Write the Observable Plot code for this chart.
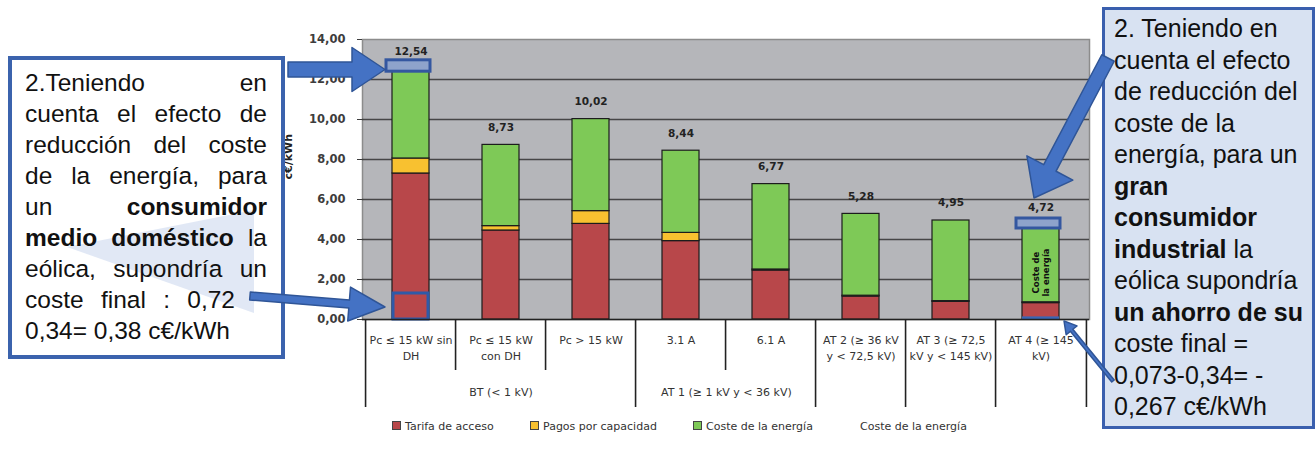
<!DOCTYPE html>
<html>
<head>
<meta charset="utf-8">
<script src="https://cdn.jsdelivr.net/npm/d3@7"></script>
<script src="https://cdn.jsdelivr.net/npm/@observablehq/plot@0.6"></script>
<style>
  html, body { margin: 0; padding: 0; background: #fff; }
  #wrap { position: relative; width: 1316px; height: 451px; overflow: hidden; background: #fff; }
  #chart { position: absolute; left: 0; top: 0; }
  .box { position: absolute; box-sizing: border-box; font-family: "Liberation Sans", Arial, sans-serif; color: #111; }
  #boxL { left: 8px; top: 56px; width: 277px; height: 303px; border: 4px solid #3b63ad; background: #fff; }
  #boxL .ln { position: relative; width: 242px; margin-left: 13px; font-size: 24.5px; line-height: 31px; height: 31px; white-space: nowrap; text-align: justify; text-align-last: justify; }
  #boxL .ln.last { text-align-last: left; }
  #boxR { left: 1102px; top: 7px; width: 213px; height: 422px; border: 3px solid #3a5fae; background: #d8e2f2; padding-left: 9px; padding-top: 3px; }
  #boxR .ln { font-size: 25px; line-height: 31.5px; height: 31.5px; white-space: nowrap; }
  b { font-weight: bold; }
  #arrows { position: absolute; left: 0; top: 0; pointer-events: none; }
  #legend { position: absolute; top: 419px; left: 0; width: 1316px; height: 18px; font-family: "DejaVu Sans", sans-serif; font-size: 11px; color: #333; }
  #legend .it { position: absolute; top: 0; white-space: nowrap; line-height: 16px; }
  #legend .sw { display: inline-block; width: 7px; height: 7px; border: 1px solid #444; margin-right: 4px; vertical-align: 0px; }
</style>
</head>
<body>
<div id="wrap">
  <div id="chart"></div>
  <div id="boxL" class="box">
    <svg width="277" height="303" style="position:absolute;left:-4px;top:-4px">
      <polygon points="59,191 246,154 246,257" fill="#c9d6ec" opacity="0.55"></polygon>
    </svg>
    <div style="position:relative;padding-top:7px">
      <div class="ln">2.Teniendo en</div>
      <div class="ln">cuenta el efecto de</div>
      <div class="ln">reducción del coste</div>
      <div class="ln">de la energía, para</div>
      <div class="ln">un <b>consumidor</b></div>
      <div class="ln"><b>medio doméstico</b> la</div>
      <div class="ln">eólica, supondría un</div>
      <div class="ln" style="width:210px">coste final : 0,72</div>
      <div class="ln last">0,34= 0,38 c€/kWh</div>
    </div>
  </div>
  <div id="boxR" class="box">
    <div class="ln">2. Teniendo en</div>
    <div class="ln">cuenta el efecto</div>
    <div class="ln">de reducción del</div>
    <div class="ln">coste de la</div>
    <div class="ln">energía, para un</div>
    <div class="ln"><b>gran</b></div>
    <div class="ln"><b>consumidor</b></div>
    <div class="ln"><b>industrial</b> la</div>
    <div class="ln">eólica supondría</div>
    <div class="ln"><b>un ahorro de su</b></div>
    <div class="ln">coste final =</div>
    <div class="ln">0,073-0,34= -</div>
    <div class="ln">0,267 c€/kWh</div>
  </div>
  <svg id="arrows" width="1316" height="451"></svg>
  <div id="legend"></div>
</div>
<script>
// ---------- data ----------
const categories = [
  "Pc ≤ 15 kW sin\nDH",
  "Pc ≤ 15 kW\ncon DH",
  "Pc > 15 kW",
  "3.1 A",
  "6.1 A",
  "AT 2 (≥ 36 kV\ny < 72,5 kV)",
  "AT 3 (≥ 72,5\nkV y < 145 kV)",
  "AT 4 (≥ 145\nkV)"
];
const seriesNames = ["Tarifa de acceso", "Pagos por capacidad", "Coste de la energía"];
const tarifaAcceso      = [7.30, 4.45, 4.78, 3.92, 2.45, 1.15, 0.88, 0.82];
const pagosCapacidad    = [0.75, 0.22, 0.64, 0.41, 0.05, 0.04, 0.04, 0.04];
const costeEnergia      = [4.49, 4.06, 4.60, 4.11, 4.27, 4.09, 4.03, 3.86];
const totals            = [12.54, 8.73, 10.02, 8.44, 6.77, 5.28, 4.95, 4.72];
const yTicks = [0, 2, 4, 6, 8, 10, 12, 14];
const groups = [
  {label: "BT (< 1 kV)", first: 0, last: 2},
  {label: "AT 1 (≥ 1 kV y < 36 kV)", first: 3, last: 4}
];
const legendItems = ["Tarifa de acceso", "Pagos por capacidad", "Coste de la energía", "Coste de la energía"];
const colors = ["#b8474a", "#f8c130", "#7ec957"];

// ---------- build ----------
const fmt = v => v.toFixed(2).replace(".", ",");
const rows = [];
categories.forEach((c, i) => {
  rows.push({cat: c, serie: seriesNames[0], value: tarifaAcceso[i]});
  rows.push({cat: c, serie: seriesNames[1], value: pagosCapacidad[i]});
  rows.push({cat: c, serie: seriesNames[2], value: costeEnergia[i]});
});

const W = 1316, H = 451, mL = 362, mR = 227, mT = 39, mB = 132;
const pIn = 0.59, pOut = 0.295;
const band = d3.scaleBand().domain(categories).range([mL, W - mR]).paddingInner(pIn).paddingOuter(pOut);
const step = band.step();

const longEdges = new Set([0, 3, 5, 6, 7]);
const edges = categories.map((c, i) => ({cat: c, long: longEdges.has(i)}));

const groupsOdd = groups.filter(g => (g.last - g.first) % 2 === 0).map(g => ({...g, cat: categories[(g.first + g.last) / 2]}));
const groupsEven = groups.filter(g => (g.last - g.first) % 2 === 1).map(g => ({...g, cat: categories[(g.first + g.last - 1) / 2]}));

const hlTop = [
  {cat: categories[0], y1: totals[0] - 0.15, y2: totals[0] + 0.42},
  {cat: categories[7], y1: totals[7] - 0.17, y2: totals[7] + 0.33}
];
const hlBottom = [{cat: categories[0], y1: 0, y2: 1.3}];
const hlStrip = [{cat: categories[7], y1: 0, y2: 0.13}];
const inBarText = [{cat: categories[7], y: 2.35, text: "Coste de\nla energía"}];

const chart = Plot.plot({
  width: W, height: H,
  marginLeft: mL, marginRight: mR, marginTop: mT, marginBottom: mB,
  style: {fontFamily: "DejaVu Sans, sans-serif", background: "transparent", overflow: "visible"},
  x: {domain: categories, paddingInner: pIn, paddingOuter: pOut, axis: null},
  y: {domain: [0, 14], axis: null},
  color: {domain: seriesNames, range: colors},
  marks: [
    Plot.frame({fill: "#b5b6ba", stroke: "#8c8c8c", strokeWidth: 1.5}),
    Plot.ruleY(yTicks.filter(t => t > 0 && t < 14), {stroke: "#333", strokeWidth: 1.6, strokeOpacity: 0.85}),
    Plot.barY(rows, {x: "cat", y: "value", fill: "serie", stroke: "#1c1c1c", strokeWidth: 1.2}),
    Plot.barY(hlBottom, {x: "cat", y1: "y1", y2: "y2", fill: "none", stroke: "#2f5aa8", strokeWidth: 3, insetLeft: 1, insetRight: 1}),
    Plot.barY(hlStrip, {x: "cat", y1: "y1", y2: "y2", fill: "#3a66b5"}),
    Plot.barY(hlTop, {x: "cat", y1: "y1", y2: "y2", fill: "#8ea3cb", stroke: "#3457a0", strokeWidth: 3, insetLeft: -6, insetRight: -1}),
    Plot.text(totals, {x: (d, i) => categories[i], y: d => d, text: fmt, dy: -17.5, fontWeight: "bold", fontSize: 10.5, fill: "#222"}),
    Plot.text(inBarText, {x: "cat", y: "y", text: "text", rotate: -90, fontWeight: "bold", fontSize: 8.5, fill: "#111", lineHeight: 1.1}),
    Plot.ruleY([0], {stroke: "#222", strokeWidth: 1.5}),
    Plot.axisY({ticks: yTicks, tickFormat: fmt, tickSize: 5, tickPadding: 12, fontSize: 11.5, fontWeight: "bold", color: "#3d3d3d", label: null}),
    Plot.text(["c€/kWh"], {frameAnchor: "left", dx: -74, rotate: -90, fontWeight: "bold", fontSize: 11, fill: "#222"}),
    Plot.ruleX(edges, {x: "cat", dx: -step / 2, y1: 0, y2: d => d.long ? -4.4 : -2.55, stroke: "#222", strokeWidth: 1.6}),
    Plot.ruleX([categories[categories.length - 1]], {x: d => d, dx: step / 2, y1: 0, y2: -4.4, stroke: "#222", strokeWidth: 1.6}),
    Plot.text(categories, {x: d => d, y: -0.62, text: d => d, lineAnchor: "top", fontSize: 11, fill: "#333", lineHeight: 1.5}),
    Plot.text(groupsOdd, {x: "cat", y: -3.65, text: "label", fontSize: 11, fill: "#333"}),
    Plot.text(groupsEven, {x: "cat", y: -3.65, text: "label", fontSize: 11, fill: "#333", dx: step / 2})
  ]
});
document.getElementById("chart").appendChild(chart);

// ---------- legend ----------
(function(){
  const lg = document.getElementById("legend");
  const lefts = [392, 530, 693, 860];
  legendItems.forEach((t, i) => {
    const d = document.createElement("div");
    d.className = "it";
    d.style.left = lefts[i] + "px";
    if (i < 3) {
      const s = document.createElement("span");
      s.className = "sw";
      s.style.background = colors[i];
      d.appendChild(s);
    }
    d.appendChild(document.createTextNode(t));
    lg.appendChild(d);
  });
})();
// ---------- arrows ----------
(function(){
  const svg = d3.select("#arrows");
  function blockArrow(x0, y0, x1, y1, sw, hl, hw) {
    const dx = x1 - x0, dy = y1 - y0, L = Math.hypot(dx, dy);
    const ux = dx / L, uy = dy / L, px = -uy, py = ux;
    const bx = x1 - ux * hl, by = y1 - uy * hl;
    return [
      [x0 + px * sw, y0 + py * sw], [bx + px * sw, by + py * sw], [bx + px * hw, by + py * hw],
      [x1, y1], [bx - px * hw, by - py * hw], [bx - px * sw, by - py * sw], [x0 - px * sw, y0 - py * sw]
    ].map(p => p.join(",")).join(" ");
  }
  const arrows = [
    [288, 69.5, 385, 69.5, 7.5, 33, 22],
    [250, 296, 385, 307, 4, 36, 17],
    [1108, 58, 1034, 198, 7, 34, 26],
    [1113, 381, 1064, 321, 1.6, 12, 7]
  ];
  arrows.forEach(a => {
    svg.append("polygon").attr("points", blockArrow(...a))
      .attr("fill", "#4472c4").attr("stroke", "#2f5597").attr("stroke-width", 1.5).attr("stroke-linejoin", "round");
  });
})();
</script>
</body>
</html>
